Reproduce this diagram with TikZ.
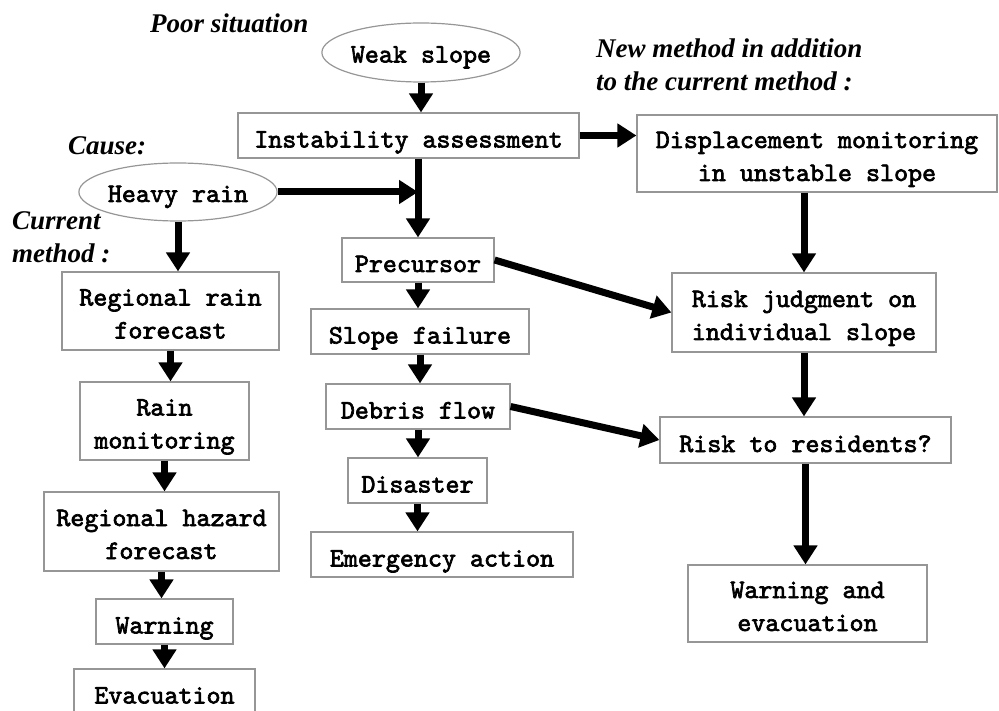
\documentclass[tikz,border=0pt]{standalone}
\usepackage{fontspec}
\setmainfont{Liberation Serif}
\newfontfamily\boxfont{lmmono10-regular.otf}[FakeBold=2.5]
\usetikzlibrary{shapes,arrows.meta}
\definecolor{edgegray}{RGB}{150,150,150}
\tikzset{
box/.style={draw=edgegray,line width=1.2pt,font=\boxfont\fontsize{26.7}{33}\selectfont,
  align=center,inner sep=0pt,minimum height=45pt},
single/.style={box,text height=24pt,text depth=0pt},
double/.style={box,text height=55pt,text depth=0pt,minimum height=78pt},
oval/.style={box,ellipse,text height=20pt,text depth=0pt},
note/.style={font=\bfseries\itshape\fontsize{27}{33}\selectfont,align=left,inner sep=0pt},
arr/.style={-{Triangle[length=19pt,width=23pt]},line width=7pt}
}

\begin{document}
\begin{tikzpicture}[x=1pt,y=-1pt]
\useasboundingbox (0,0) rectangle (999,711);
\node[note,anchor=base west] (poor) at (150,33) {Poor situation};
\node[note,anchor=base west] (cause) at (68,155) {Cause:};
\node[note,anchor=north west] (curr) at (12,211) {Current\\method :};
\node[note,anchor=north west] (newm) at (596,39) {New method in addition\\to the current method :};

\node[oval,minimum width=178pt,minimum height=59pt] (weak) at (421,52.5) {Weak slope};
\node[single,minimum width=341pt] (inst) at (408.5,135.5) {Instability assessment};
\node[double,minimum width=360pt,minimum height=77pt] (disp) at (817,153.5) {Displacement monitoring\\in unstable slope};
\node[oval,minimum width=180pt,minimum height=58pt] (heavy) at (178,192) {Heavy rain};

\node[double,minimum width=217pt] (rrf) at (170.5,311) {Regional rain\\forecast};
\node[double,minimum width=169pt] (rmon) at (164.5,421) {Rain\\monitoring};
\node[double,minimum width=235pt,minimum height=79pt] (rhf) at (161.5,531.5) {Regional hazard\\forecast};
\node[single,minimum width=137pt] (warn) at (164.5,621.5) {Warning};
\node[single,minimum width=181pt] (evac) at (164.5,691.5) {Evacuation};

\node[single,minimum width=152pt,minimum height=44pt] (prec) at (418,260) {Precursor};
\node[single,minimum width=218pt] (slope) at (420,331.5) {Slope failure};
\node[single,minimum width=184pt] (debris) at (418,406.5) {Debris flow};
\node[single,minimum width=139pt] (disaster) at (417.5,480.5) {Disaster};
\node[single,minimum width=262pt] (emerg) at (442,554.5) {Emergency action};

\node[double,minimum width=264pt,minimum height=79pt] (judge) at (804,312.5) {Risk judgment on\\individual slope};
\node[single,minimum width=291pt,minimum height=46pt] (resid) at (805.5,440) {Risk to residents?};
\node[double,minimum width=239pt,minimum height=77pt] (wevac) at (807.5,603.5) {Warning and\\evacuation};

\draw[arr] (weak.south) -- (weak.south |- inst.north);
\draw[arr] (inst.east) -- (inst.east -| disp.west);
\draw[arr] (inst.south -| prec.north) -- (prec.north);
\draw[arr] (heavy.east) -- (heavy.east -| prec.north);
\draw[arr] (heavy.south) -- (heavy.south |- rrf.north);
\foreach \a/\b in {rrf/rmon,rmon/rhf,rhf/warn,warn/evac,prec/slope,slope/debris,debris/disaster,disaster/emerg}
  \draw[arr] (\a.south) -- (\a.south |- \b.north);
\draw[arr] (judge.north |- disp.south) -- (judge.north);
\draw[arr] (judge.south) -- (judge.south |- resid.north);
\draw[arr] (resid.south) -- (resid.south |- wevac.north);
\draw[arr] (prec.east) -- (judge.west);
\draw[arr] (debris.east) -- (resid.west);
\end{tikzpicture}
\end{document}
